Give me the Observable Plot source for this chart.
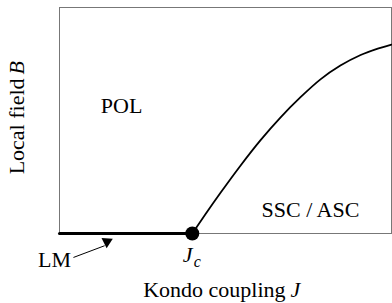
<!DOCTYPE html>
<html>
<head>
<meta charset="utf-8">
<script src="https://cdn.jsdelivr.net/npm/d3@7"></script>
<script src="https://cdn.jsdelivr.net/npm/@observablehq/plot@0.6"></script>
<style>
  html, body { margin: 0; padding: 0; background: #fff; }
  svg { display: block; }
  svg text { font-family: "Liberation Serif", "DejaVu Serif", serif; }
</style>
</head>
<body>
<div id="chart"></div>
<script>
// Phase boundary B_c(J) (J and B in relative units)
const curveJ = [0.400, 0.440, 0.485, 0.545, 0.605, 0.666, 0.726, 0.786, 0.846, 0.907, 0.952, 1.000];
const curveB = [0.000, 0.086, 0.180, 0.300, 0.412, 0.514, 0.603, 0.682, 0.743, 0.790, 0.815, 0.836];
const Jc = 0.4;
const lmSegment = [0, Jc];

const curve = curveJ.map((j, i) => ({J: j, B: curveB[i]}));
const lm = lmSegment.map(j => ({J: j, B: 0}));

const regionLabels = [
  {text: "POL", J: 0.187, B: 0.566},
  {text: "SSC / ASC", J: 0.756, B: 0.102},
  {text: "LM", J: -0.015, B: -0.119}
];

const font = "Liberation Serif, DejaVu Serif, serif";

const chart = Plot.plot({
  width: 392,
  height: 303,
  marginLeft: 59,
  marginRight: 1,
  marginTop: 7,
  marginBottom: 70,
  x: {domain: [0, 1], axis: null},
  y: {domain: [0, 1], axis: null},
  style: {fontFamily: font, background: "#fff"},
  marks: [
    Plot.frame({stroke: "#777", strokeWidth: 1}),
    Plot.line(lm, {x: "J", y: "B", stroke: "black", strokeWidth: 3}),
    Plot.line(curve, {x: "J", y: "B", stroke: "black", strokeWidth: 1.8, curve: "monotone-x"}),
    Plot.dot([{J: Jc, B: 0}], {x: "J", y: "B", r: 7, fill: "black", stroke: "none"}),
    // LM arrow
    Plot.link([{x1: 0.042, y1: -0.106, x2: 0.136, y2: -0.054}], {x1: "x1", y1: "y1", x2: "x2", y2: "y2", stroke: "black", strokeWidth: 1}),
    Plot.dot([{J: 0.143, B: -0.036}], {x: "J", y: "B", symbol: "triangle", r: 4.2, rotate: 63, fill: "black", stroke: "none"}),
    Plot.text(regionLabels, {x: "J", y: "B", text: "text", fontSize: 22, fontFamily: font, textAnchor: "middle", lineAnchor: "middle", fill: "black"}),
    // J_c label
    Plot.text([{J: 0.386, B: -0.093}], {x: "J", y: "B", text: () => "J", fontSize: 22, fontFamily: font, fontStyle: "italic", textAnchor: "middle", lineAnchor: "middle", fill: "black"}),
    Plot.text([{J: 0.415, B: -0.124}], {x: "J", y: "B", text: () => "c", fontSize: 16, fontFamily: font, fontStyle: "italic", textAnchor: "middle", lineAnchor: "middle", fill: "black"}),
    // x-axis label
    Plot.text([{J: 0.681, B: -0.252}], {x: "J", y: "B", text: () => "Kondo coupling", fontSize: 22, fontFamily: font, textAnchor: "end", lineAnchor: "middle", fill: "black"}),
    Plot.text([{J: 0.696, B: -0.252}], {x: "J", y: "B", text: () => "J", fontSize: 22, fontFamily: font, fontStyle: "italic", textAnchor: "start", lineAnchor: "middle", fill: "black"}),
    // y-axis label
    Plot.text([{J: -0.127, B: 0.686}], {x: "J", y: "B", text: () => "Local field", fontSize: 22, fontFamily: font, rotate: -90, textAnchor: "end", lineAnchor: "middle", fill: "black"}),
    Plot.text([{J: -0.127, B: 0.704}], {x: "J", y: "B", text: () => "B", fontSize: 22, fontFamily: font, fontStyle: "italic", rotate: -90, textAnchor: "start", lineAnchor: "middle", fill: "black"})
  ]
});
document.getElementById("chart").appendChild(chart);
</script>
</body>
</html>
